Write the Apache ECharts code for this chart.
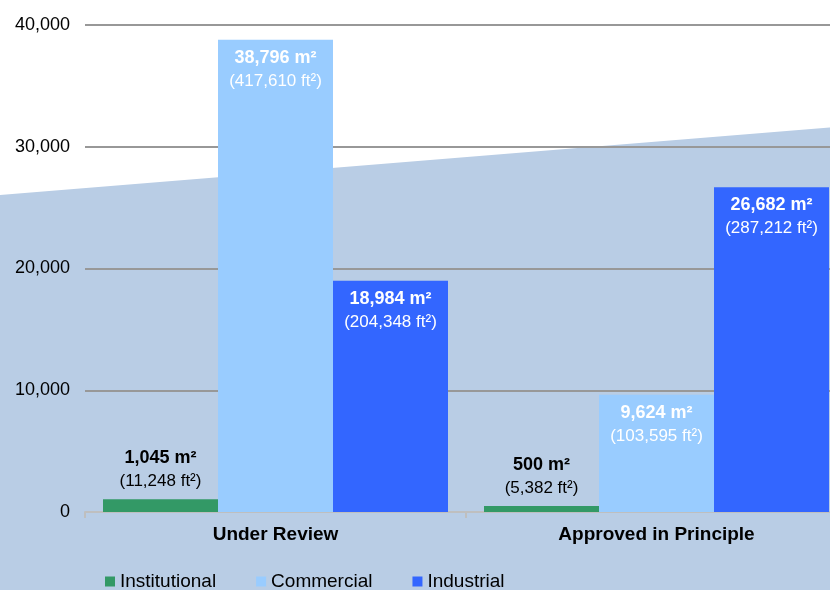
<!DOCTYPE html>
<html>
<head>
<meta charset="utf-8">
<script src="https://cdn.jsdelivr.net/npm/echarts@6/dist/echarts.min.js"></script>
<style>
  html, body { margin: 0; padding: 0; background: #fff; overflow: hidden; }
  #chart { width: 848px; height: 590px; }
</style>
</head>
<body>
<div id="chart"></div>
<script>
var categories = ['Under Review', 'Approved in Principle'];
var seriesNames = ['Institutional', 'Commercial', 'Industrial'];
var institutionalM2 = [1045, 500];
var commercialM2 = [38796, 9624];
var industrialM2 = [18984, 26682];
var institutionalFt2 = [11248, 5382];
var commercialFt2 = [417610, 103595];
var industrialFt2 = [204348, 287212];

var fontFamily = '"Liberation Sans", Arial, sans-serif';

function fmt(v) {
    return v.toLocaleString('en-US');
}

// two-line label: m² in bold, ft² below
function makeLabel(ft2, position, color) {
    return {
        show: true,
        position: position,
        distance: 6,
        color: color,
        fontFamily: fontFamily,
        formatter: function (p) {
            return '{a|' + fmt(p.value) + ' m\u00b2}\n{b|(' + fmt(ft2[p.dataIndex]) + ' ft\u00b2)}';
        },
        rich: {
            a: { fontSize: 18, fontWeight: 'bold', color: color, lineHeight: 24, fontFamily: fontFamily },
            b: { fontSize: 17, color: color, lineHeight: 23, fontFamily: fontFamily }
        }
    };
}

var myChart = echarts.init(document.getElementById('chart'));
var option = {
    backgroundColor: '#ffffff',
    animation: false,
    color: ['#339966', '#99ccff', '#3366ff'],
    graphic: [{
        type: 'polygon',
        z: -100,
        silent: true,
        shape: { points: [[0, 195], [848, 126], [848, 590], [0, 590]] },
        style: { fill: '#b9cde5' }
    }],
    legend: {
        left: 100,
        top: 567,
        icon: 'rect',
        itemWidth: 10,
        itemHeight: 10,
        itemGap: 40,
        textStyle: { fontSize: 19, color: '#000', fontFamily: fontFamily },
        data: seriesNames
    },
    grid: {
        left: 85,
        right: 1,
        top: 25,
        bottom: 78,
        containLabel: false
    },
    xAxis: {
        type: 'category',
        data: categories,
        axisLine: { lineStyle: { color: '#bfbfbf', width: 2 } },
        axisTick: { show: true, length: 6, lineStyle: { color: '#bfbfbf', width: 2 } },
        axisLabel: {
            margin: 13,
            fontSize: 19,
            fontWeight: 'bold',
            color: '#000',
            fontFamily: fontFamily
        }
    },
    yAxis: {
        type: 'value',
        min: 0,
        max: 40000,
        interval: 10000,
        axisLine: { show: false },
        axisTick: { show: false },
        splitLine: { lineStyle: { color: '#989898', width: 2 } },
        axisLabel: {
            margin: 15,
            fontSize: 18,
            color: '#000',
            fontFamily: fontFamily,
            formatter: function (v) { return fmt(v); }
        }
    },
    series: [{
        name: 'Institutional',
        type: 'bar',
        barWidth: 115,
        barGap: '0%',
        data: institutionalM2,
        label: makeLabel(institutionalFt2, 'top', '#000000')
    }, {
        name: 'Commercial',
        type: 'bar',
        barWidth: 115,
        barGap: '0%',
        data: commercialM2,
        label: makeLabel(commercialFt2, 'insideTop', '#ffffff')
    }, {
        name: 'Industrial',
        type: 'bar',
        barWidth: 115,
        barGap: '0%',
        data: industrialM2,
        label: makeLabel(industrialFt2, 'insideTop', '#ffffff')
    }]
};
myChart.setOption(option);
</script>
</body>
</html>
